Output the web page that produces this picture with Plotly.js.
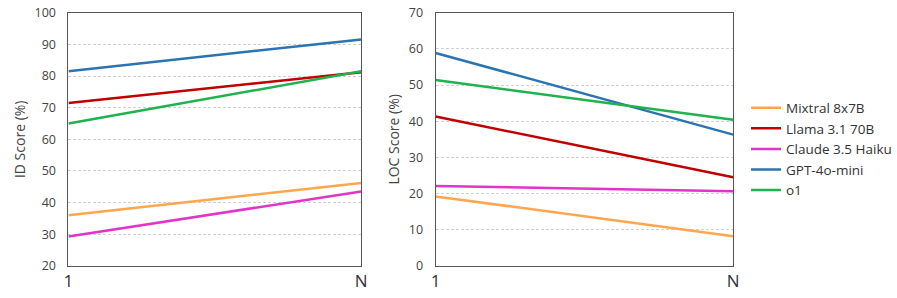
<!DOCTYPE html>
<html><head><meta charset="utf-8">
<script src="https://cdn.plot.ly/plotly-3.0.1.min.js"></script>
<style>html,body{margin:0;padding:0;background:#fff;overflow:hidden}#c{width:897px;height:298px}</style>
</head><body><div id="c"></div>
<script>
const xCats = ["1", "N"];
const models = ["Mixtral 8x7B", "Llama 3.1 70B", "Claude 3.5 Haiku", "GPT-4o-mini", "o1"];
const colors = ["#ffa64f", "#c00000", "#e035c8", "#2a74b2", "#1fb24e"];
const idMixtral = [36.0, 46.2];
const idLlama = [71.5, 81.2];
const idClaude = [29.3, 43.5];
const idGPT = [81.5, 91.6];
const idO1 = [65.0, 81.5];
const locMixtral = [19.2, 8.2];
const locLlama = [41.3, 24.5];
const locClaude = [22.1, 20.6];
const locGPT = [58.9, 36.3];
const locO1 = [51.4, 40.4];

const idData = [idMixtral, idLlama, idClaude, idGPT, idO1];
const locData = [locMixtral, locLlama, locClaude, locGPT, locO1];
const traces = [];
models.forEach((m, i) => {
  traces.push({x: xCats, y: idData[i], type: 'scatter', mode: 'lines', name: m,
    line: {color: colors[i], width: 2.5}, xaxis: 'x', yaxis: 'y', legendgroup: m, showlegend: true});
});
models.forEach((m, i) => {
  traces.push({x: xCats, y: locData[i], type: 'scatter', mode: 'lines', name: m,
    line: {color: colors[i], width: 2.5}, xaxis: 'x2', yaxis: 'y2', legendgroup: m, showlegend: false});
});
const font = {family: 'Open Sans, sans-serif', color: '#444', size: 12};
const yBase = {showline: true, mirror: true, linecolor: '#555', linewidth: 1,
  showgrid: true, gridcolor: '#d0d0d0', griddash: '3px,2px', gridwidth: 1, zeroline: false,
  ticks: '', ticklabelstandoff: 9, tickfont: {size: 12.5, color: '#444'}, domain: [0.108, 0.957], dtick: 10};
const xBase = {type: 'category', range: [0, 1], showline: true, mirror: true, linecolor: '#555', linewidth: 1,
  showgrid: false, zeroline: false, ticks: '', tickfont: {size: 17, color: '#333'}};
const layout = {
  width: 897, height: 298, margin: {l: 0, r: 0, t: 0, b: 0},
  paper_bgcolor: '#fff', plot_bgcolor: '#fff', font: font,
  xaxis: Object.assign({}, xBase, {domain: [0.0780, 0.4114], anchor: 'y'}),
  xaxis2: Object.assign({}, xBase, {domain: [0.4961, 0.8350], anchor: 'y2'}),
  yaxis: Object.assign({}, yBase, {range: [20, 100], anchor: 'x',
    title: {text: 'ID Score (%)', font: {size: 14, color: '#444'}, standoff: 5}}),
  yaxis2: Object.assign({}, yBase, {range: [0, 70], anchor: 'x2',
    title: {text: 'LOC Score (%)', font: {size: 14, color: '#444'}, standoff: 5}}),
  legend: {x: 0.850, y: 0.5, yanchor: 'middle', xanchor: 'left', font: {size: 13.5, color: '#333'},
    bgcolor: 'rgba(0,0,0,0)', itemwidth: 30, tracegroupgap: 0}
};
Plotly.newPlot('c', traces, layout, {staticPlot: true});
</script></body></html>
